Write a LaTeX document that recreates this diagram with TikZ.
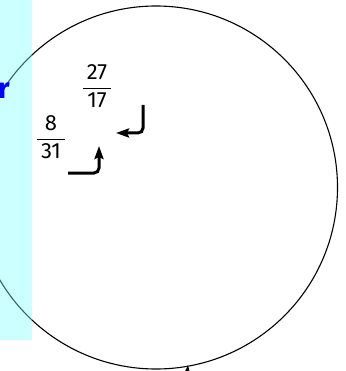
\documentclass[tikz,border=0pt]{standalone}
\usepackage{amsmath}
\usepackage{fontspec}
\setmainfont{Fira Sans}
\usetikzlibrary{arrows.meta}
\definecolor{paneltint}{RGB}{127,255,255}
\tikzset{
  bend arrow/.style={line width=3pt, rounded corners=5pt, -{Stealth[length=13pt,width=9pt,inset=2pt]}},
  frac/.style={inner sep=0pt, font=\fontsize{22}{24}\selectfont},
  label r/.style={inner sep=0pt, anchor=base east, text=blue, font=\fontsize{29}{31}\selectfont\bfseries},
}
\newcommand{\fracbox}[2]{$\displaystyle\frac{\mbox{\,#1\,}}{\mbox{\,#2\,}}$}
\begin{document}
\begin{tikzpicture}[x=1pt,y=-1pt]
\useasboundingbox (0,0) rectangle (345,371);
\clip (0,0) rectangle (345,371);
\draw[line width=1.1pt] (156,187.5) circle[radius=181.5];
\fill[paneltint, opacity=0.4] (0,0) rectangle (32,340);
\node[label r] (r) at (10,98.5) {r};
\node[frac] (f1) at (97,86) {\fracbox{27}{17}};
\node[frac] (f2) at (51,137) {\fracbox{8}{31}};
\coordinate (a1s) at (143,105);
\coordinate (a1c) at (143,133);
\coordinate (a1e) at (116,133);
\draw[bend arrow] (a1s) -- (a1c) -- (a1e);
\coordinate (a2s) at (68,173);
\coordinate (a2c) at (99,173);
\coordinate (a2e) at (99,146);
\draw[bend arrow] (a2s) -- (a2c) -- (a2e);
\coordinate (a3s) at (185,395);
\coordinate (a3e) at (188,365);
\draw[bend arrow] (a3s) -- (a3e);
\end{tikzpicture}
\end{document}
